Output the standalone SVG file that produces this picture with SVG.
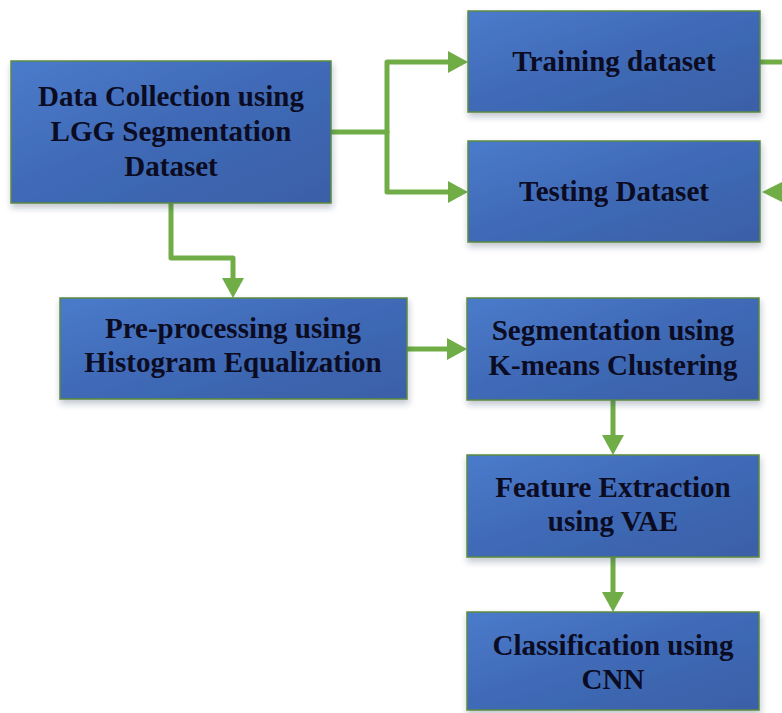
<svg xmlns="http://www.w3.org/2000/svg" width="782" height="713" viewBox="0 0 782 713">
  <defs>
    <linearGradient id="boxFill" x1="0" y1="0" x2="1" y2="1">
      <stop offset="0" stop-color="#4a7bcb"/>
      <stop offset="0.5" stop-color="#3f69b6"/>
      <stop offset="1" stop-color="#3a60a7"/>
    </linearGradient>
    <filter id="shadow" x="-10%" y="-10%" width="120%" height="130%">
      <feDropShadow dx="1" dy="4" stdDeviation="3" flood-color="#203050" flood-opacity="0.28"/>
    </filter>
    <marker id="arrow" markerUnits="userSpaceOnUse" markerWidth="22" markerHeight="24" refX="0" refY="11" orient="auto">
      <path d="M0,0 L20,11 L0,22 z" fill="#70ad47"/>
    </marker>
    <style>
      .box { fill: url(#boxFill); stroke: #5b8a40; stroke-width: 1.5; filter: url(#shadow); }
      .label { font-family: "Liberation Serif", "Times New Roman", serif; font-weight: bold; font-size: 29px; fill: #0b0b22; text-anchor: middle; }
      .edge { fill: none; stroke: #70ad47; stroke-width: 5; stroke-linejoin: round; stroke-linecap: round; }
      .head { fill: #70ad47; }
    </style>
  </defs>

  <rect width="782" height="713" fill="#ffffff"/>

  <!-- connectors -->
  <g id="connectors">
    <path class="edge" d="M331,132 H387 V62 H448" marker-end="url(#arrow)"/>
    <path class="edge" d="M387,132 V192 H448" marker-end="url(#arrow)"/>
    <path class="edge" d="M760,62 H790"/>
    <polygon class="head" points="762,192 784,181 784,203"/>
    <path class="edge" d="M171,203 V258 H233 V278" marker-end="url(#arrow)"/>
    <path class="edge" d="M407,349 H447" marker-end="url(#arrow)"/>
    <path class="edge" d="M613,400 V435" marker-end="url(#arrow)"/>
    <path class="edge" d="M613,557 V592" marker-end="url(#arrow)"/>
  </g>

  <!-- nodes -->
  <g id="data-collection">
    <rect class="box" x="11" y="61" width="320" height="142"/>
    <text class="label" x="171" y="106">Data Collection using</text>
    <text class="label" x="171" y="141">LGG Segmentation</text>
    <text class="label" x="171" y="176">Dataset</text>
  </g>

  <g id="training">
    <rect class="box" x="468" y="11" width="292" height="101"/>
    <text class="label" x="614" y="71">Training dataset</text>
  </g>

  <g id="testing">
    <rect class="box" x="468" y="141" width="292" height="101"/>
    <text class="label" x="614" y="201">Testing Dataset</text>
  </g>

  <g id="preprocessing">
    <rect class="box" x="60" y="298" width="347" height="101"/>
    <text class="label" x="233" y="338">Pre-processing using</text>
    <text class="label" x="233" y="372">Histogram Equalization</text>
  </g>

  <g id="segmentation">
    <rect class="box" x="467" y="298" width="292" height="102"/>
    <text class="label" x="613" y="340">Segmentation using</text>
    <text class="label" x="613" y="375">K-means Clustering</text>
  </g>

  <g id="feature-extraction">
    <rect class="box" x="467" y="455" width="292" height="102"/>
    <text class="label" x="613" y="497">Feature Extraction</text>
    <text class="label" x="613" y="531">using VAE</text>
  </g>

  <g id="classification">
    <rect class="box" x="467" y="612" width="292" height="98"/>
    <text class="label" x="613" y="655">Classification using</text>
    <text class="label" x="613" y="689">CNN</text>
  </g>
</svg>
